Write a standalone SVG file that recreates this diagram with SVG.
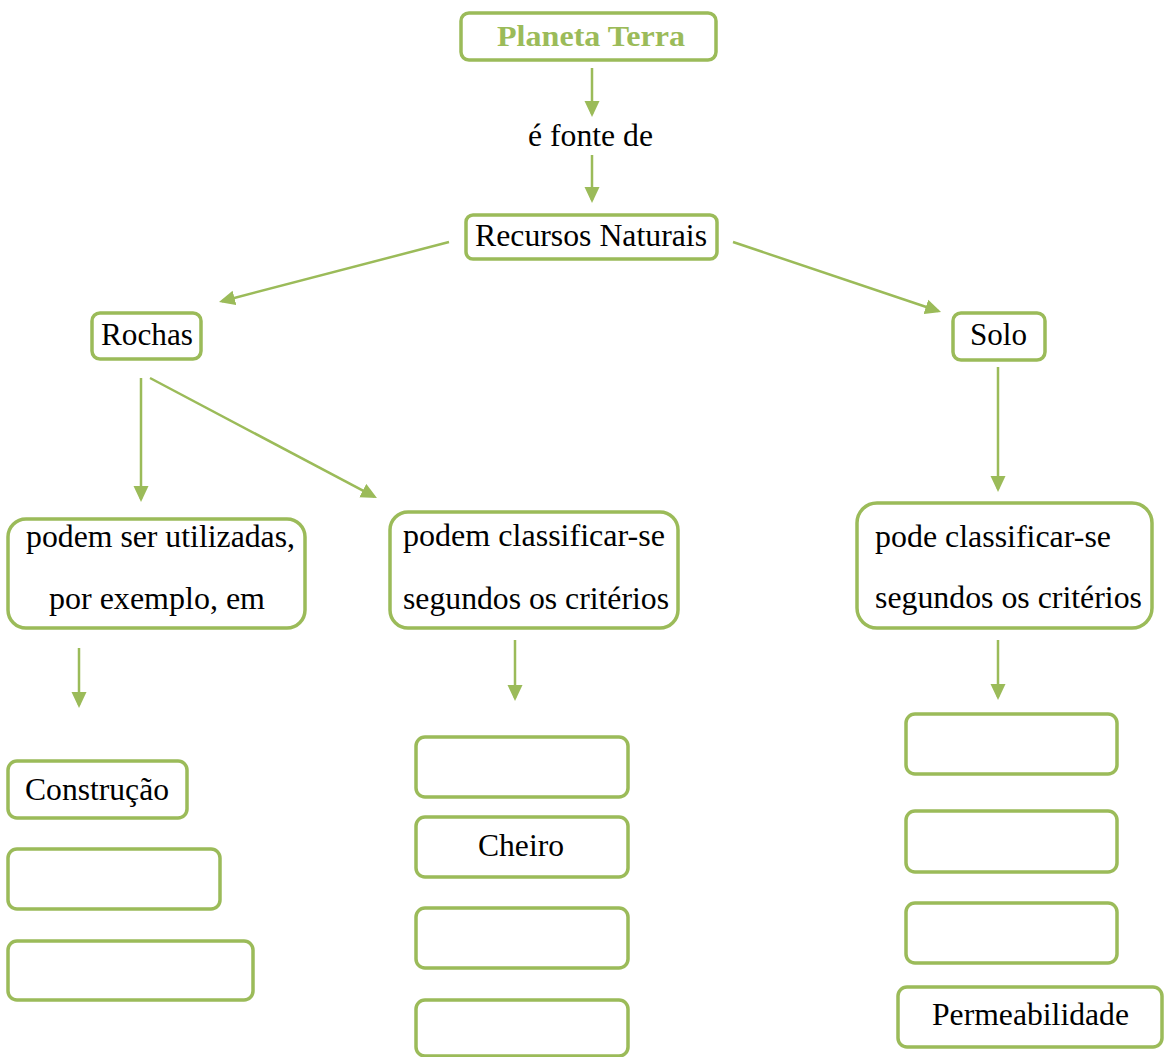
<svg xmlns="http://www.w3.org/2000/svg" width="1164" height="1057" viewBox="0 0 1164 1057">
<defs>
<style>
.box{fill:#fff;stroke:#9BBB59;stroke-width:3.5}
.t{font-family:"Liberation Serif","Times New Roman",serif;font-size:31px;fill:#000}
.title{font-family:"Liberation Serif","Times New Roman",serif;font-size:30px;font-weight:bold;fill:#9BBB59}
.c{stroke:#9BBB59;stroke-width:2.5;fill:none;marker-end:url(#ah)}
</style>
<marker id="ah" markerUnits="userSpaceOnUse" markerWidth="17" markerHeight="16" refX="13" refY="8" orient="auto" viewBox="0 0 17 16">
<path d="M0,0.5 L16,8 L0,15.5 Z" fill="#9BBB59"/>
</marker>
</defs>
<rect width="1164" height="1057" fill="#fff"/>
<g id="connectors">
<line class="c" x1="592" y1="68" x2="592" y2="114"/>
<line class="c" x1="592" y1="155" x2="592" y2="200"/>
<line class="c" x1="449" y1="242" x2="221.9" y2="301.2"/>
<line class="c" x1="733" y1="242" x2="938.2" y2="311"/>
<line class="c" x1="141" y1="378" x2="141" y2="499"/>
<line class="c" x1="150" y1="378" x2="374.3" y2="496.6"/>
<line class="c" x1="998" y1="367" x2="998" y2="489"/>
<line class="c" x1="79" y1="648" x2="79" y2="705"/>
<line class="c" x1="515" y1="640" x2="515" y2="698"/>
<line class="c" x1="998" y1="640" x2="998" y2="697"/>
</g>
<g id="planeta-terra">
<rect class="box" x="461" y="13" width="255" height="47" rx="8"/>
<text class="title" x="497" y="46" textLength="188" lengthAdjust="spacingAndGlyphs">Planeta Terra</text>
</g>
<g id="e-fonte-de">
<text class="t" x="528" y="146" textLength="125" lengthAdjust="spacingAndGlyphs">é fonte de</text>
</g>
<g id="recursos-naturais">
<rect class="box" x="466" y="215" width="251" height="44" rx="7"/>
<text class="t" x="475" y="246" textLength="232" lengthAdjust="spacingAndGlyphs">Recursos Naturais</text>
</g>
<g id="rochas">
<rect class="box" x="92" y="313" width="109" height="46" rx="8"/>
<text class="t" x="101" y="345" textLength="92" lengthAdjust="spacingAndGlyphs">Rochas</text>
</g>
<g id="solo">
<rect class="box" x="953" y="313" width="92" height="47" rx="8"/>
<text class="t" x="970" y="345" textLength="57" lengthAdjust="spacingAndGlyphs">Solo</text>
</g>
<g id="rochas-utilizadas">
<rect class="box" x="8" y="519" width="297" height="109" rx="18"/>
<text class="t" x="26" y="547" textLength="269" lengthAdjust="spacingAndGlyphs">podem ser utilizadas,</text>
<text class="t" x="49" y="609" textLength="216" lengthAdjust="spacingAndGlyphs">por exemplo, em</text>
</g>
<g id="rochas-classificar">
<rect class="box" x="390" y="512" width="288" height="116" rx="18"/>
<text class="t" x="403" y="546" textLength="262" lengthAdjust="spacingAndGlyphs">podem classificar-se</text>
<text class="t" x="403" y="609" textLength="266" lengthAdjust="spacingAndGlyphs">segundos os critérios</text>
</g>
<g id="solo-classificar">
<rect class="box" x="857" y="503" width="295" height="125" rx="20"/>
<text class="t" x="875" y="547" textLength="236" lengthAdjust="spacingAndGlyphs">pode classificar-se</text>
<text class="t" x="875" y="608" textLength="267" lengthAdjust="spacingAndGlyphs">segundos os critérios</text>
</g>
<g id="construcao">
<rect class="box" x="8" y="761" width="179" height="57" rx="9"/>
<text class="t" x="25" y="800" textLength="144" lengthAdjust="spacingAndGlyphs">Construção</text>
</g>
<g id="uso-2">
<rect class="box" x="8" y="849" width="212" height="60" rx="9"/>
</g>
<g id="uso-3">
<rect class="box" x="8" y="941" width="245" height="59" rx="9"/>
</g>
<g id="criterio-rochas-1">
<rect class="box" x="416" y="737" width="212" height="60" rx="9"/>
</g>
<g id="cheiro">
<rect class="box" x="416" y="817" width="212" height="60" rx="9"/>
<text class="t" x="478" y="856" textLength="86" lengthAdjust="spacingAndGlyphs">Cheiro</text>
</g>
<g id="criterio-rochas-3">
<rect class="box" x="416" y="908" width="212" height="60" rx="9"/>
</g>
<g id="criterio-rochas-4">
<rect class="box" x="416" y="1000" width="212" height="56" rx="9"/>
</g>
<g id="criterio-solo-1">
<rect class="box" x="906" y="714" width="211" height="60" rx="9"/>
</g>
<g id="criterio-solo-2">
<rect class="box" x="906" y="811" width="211" height="61" rx="9"/>
</g>
<g id="criterio-solo-3">
<rect class="box" x="906" y="903" width="211" height="60" rx="9"/>
</g>
<g id="permeabilidade">
<rect class="box" x="898" y="987" width="264" height="60" rx="9"/>
<text class="t" x="932" y="1025" textLength="197" lengthAdjust="spacingAndGlyphs">Permeabilidade</text>
</g>
</svg>
